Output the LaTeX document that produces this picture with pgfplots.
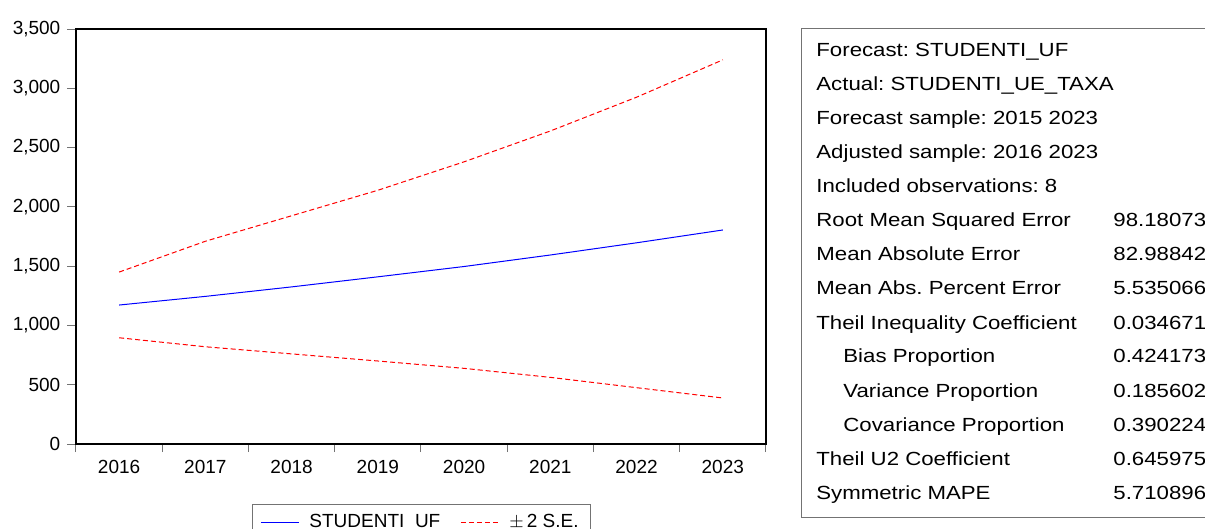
\documentclass[border=0pt]{standalone}
\usepackage{fontspec}
\setmainfont{Liberation Sans}
\newfontfamily\statfont{Liberation Sans}[FakeStretch=1.17]
\usepackage{pgfplots}
\pgfplotsset{compat=1.18}
\definecolor{frame}{gray}{0.45}
\newcommand{\ff}{\fontsize{9.5}{11}\selectfont}
\begin{document}
\ff\frenchspacing
\begin{tikzpicture}
\useasboundingbox (0,0) rectangle (602.5pt,-264.5pt);
\begin{axis}[
  at={(38pt,-222pt)}, anchor=south west,
  scale only axis, width=345pt, height=207.5pt,
  xmin=2015.5, xmax=2023.5, ymin=0, ymax=3500,
  xtick={2016,...,2023}, minor xtick={2015.5,2016.5,...,2023.5},
  ytick={0,500,...,3500},
  xtick pos=bottom, ytick pos=left, tick align=outside,
  major tick length=4.5pt, minor tick length=4pt,
  major x tick style={draw=none},
  minor x tick style={frame, line width=0.5pt},
  major y tick style={frame, line width=0.5pt},
  axis line style={black, line width=0.6pt},
  /pgf/number format/assume math mode=true,
  xticklabel style={/pgf/number format/1000 sep={}, font=\ff},
  yticklabel style={/pgf/number format/1000 sep={,}, font=\ff},
  legend columns=2,
  legend style={at={(axis description cs:0.255,-0.145)}, anchor=north west,
    draw=frame, line width=0.5pt, font=\ff, inner xsep=4pt, inner ysep=3pt,
    /tikz/every odd column/.append style={column sep=3pt},
    /tikz/every even column/.append style={column sep=8pt}},
  legend image code/.code={\draw[#1] (0pt,0pt) -- (19pt,0pt);},
]
\addplot[blue, line width=0.5pt, mark=none] coordinates {
(2016,1172)(2017,1245)(2018,1325)(2019,1410)(2020,1497)(2021,1594)(2022,1697)(2023,1805)};
\addlegendentry{STUDENTI\_UF}
\addplot[red, line width=0.5pt, dash pattern=on 2.5pt off 1.5pt, mark=none] coordinates {
(2016,1450)(2017,1710)(2018,1925)(2019,2140)(2020,2380)(2021,2640)(2022,2925)(2023,3240)};
\addlegendentry{$\pm$\,2 S.E.}
\addplot[red, line width=0.5pt, dash pattern=on 2.5pt off 1.5pt, mark=none, forget plot] coordinates {
(2016,896)(2017,820)(2018,760)(2019,700)(2020,638)(2021,562)(2022,475)(2023,388)};
\end{axis}
\begin{scope}[x=0.5pt,y=-0.5pt]
\draw[frame, line width=0.5pt] (1240,29) -- (801,29) -- (801,517) -- (1240,517);
\foreach \lab/\val/\ind [count=\i from 0] in {
  {Forecast: STUDENTI\_UF}//0,
  {Actual: STUDENTI\_UE\_TAXA}//0,
  {Forecast sample: 2015 2023}//0,
  {Adjusted sample: 2016 2023}//0,
  {Included observations: 8}//0,
  {Root Mean Squared Error}/98.180733/0,
  {Mean Absolute Error}/82.988424/0,
  {Mean Abs. Percent Error}/5.535066/0,
  {Theil Inequality Coefficient}/0.034671/0,
  {Bias Proportion}/0.424173/1,
  {Variance Proportion}/0.185602/1,
  {Covariance Proportion}/0.390224/1,
  {Theil U2 Coefficient}/0.645975/0,
  {Symmetric MAPE}/5.710896/0}{
  \node[anchor=base west, inner sep=0pt, font=\ff\statfont] at (816+27*\ind, 57+34*\i) {\lab};
  \node[anchor=base west, inner sep=0pt, font=\ff\statfont] at (1113, 57+34*\i) {\val};
}
\end{scope}
\end{tikzpicture}
\end{document}
